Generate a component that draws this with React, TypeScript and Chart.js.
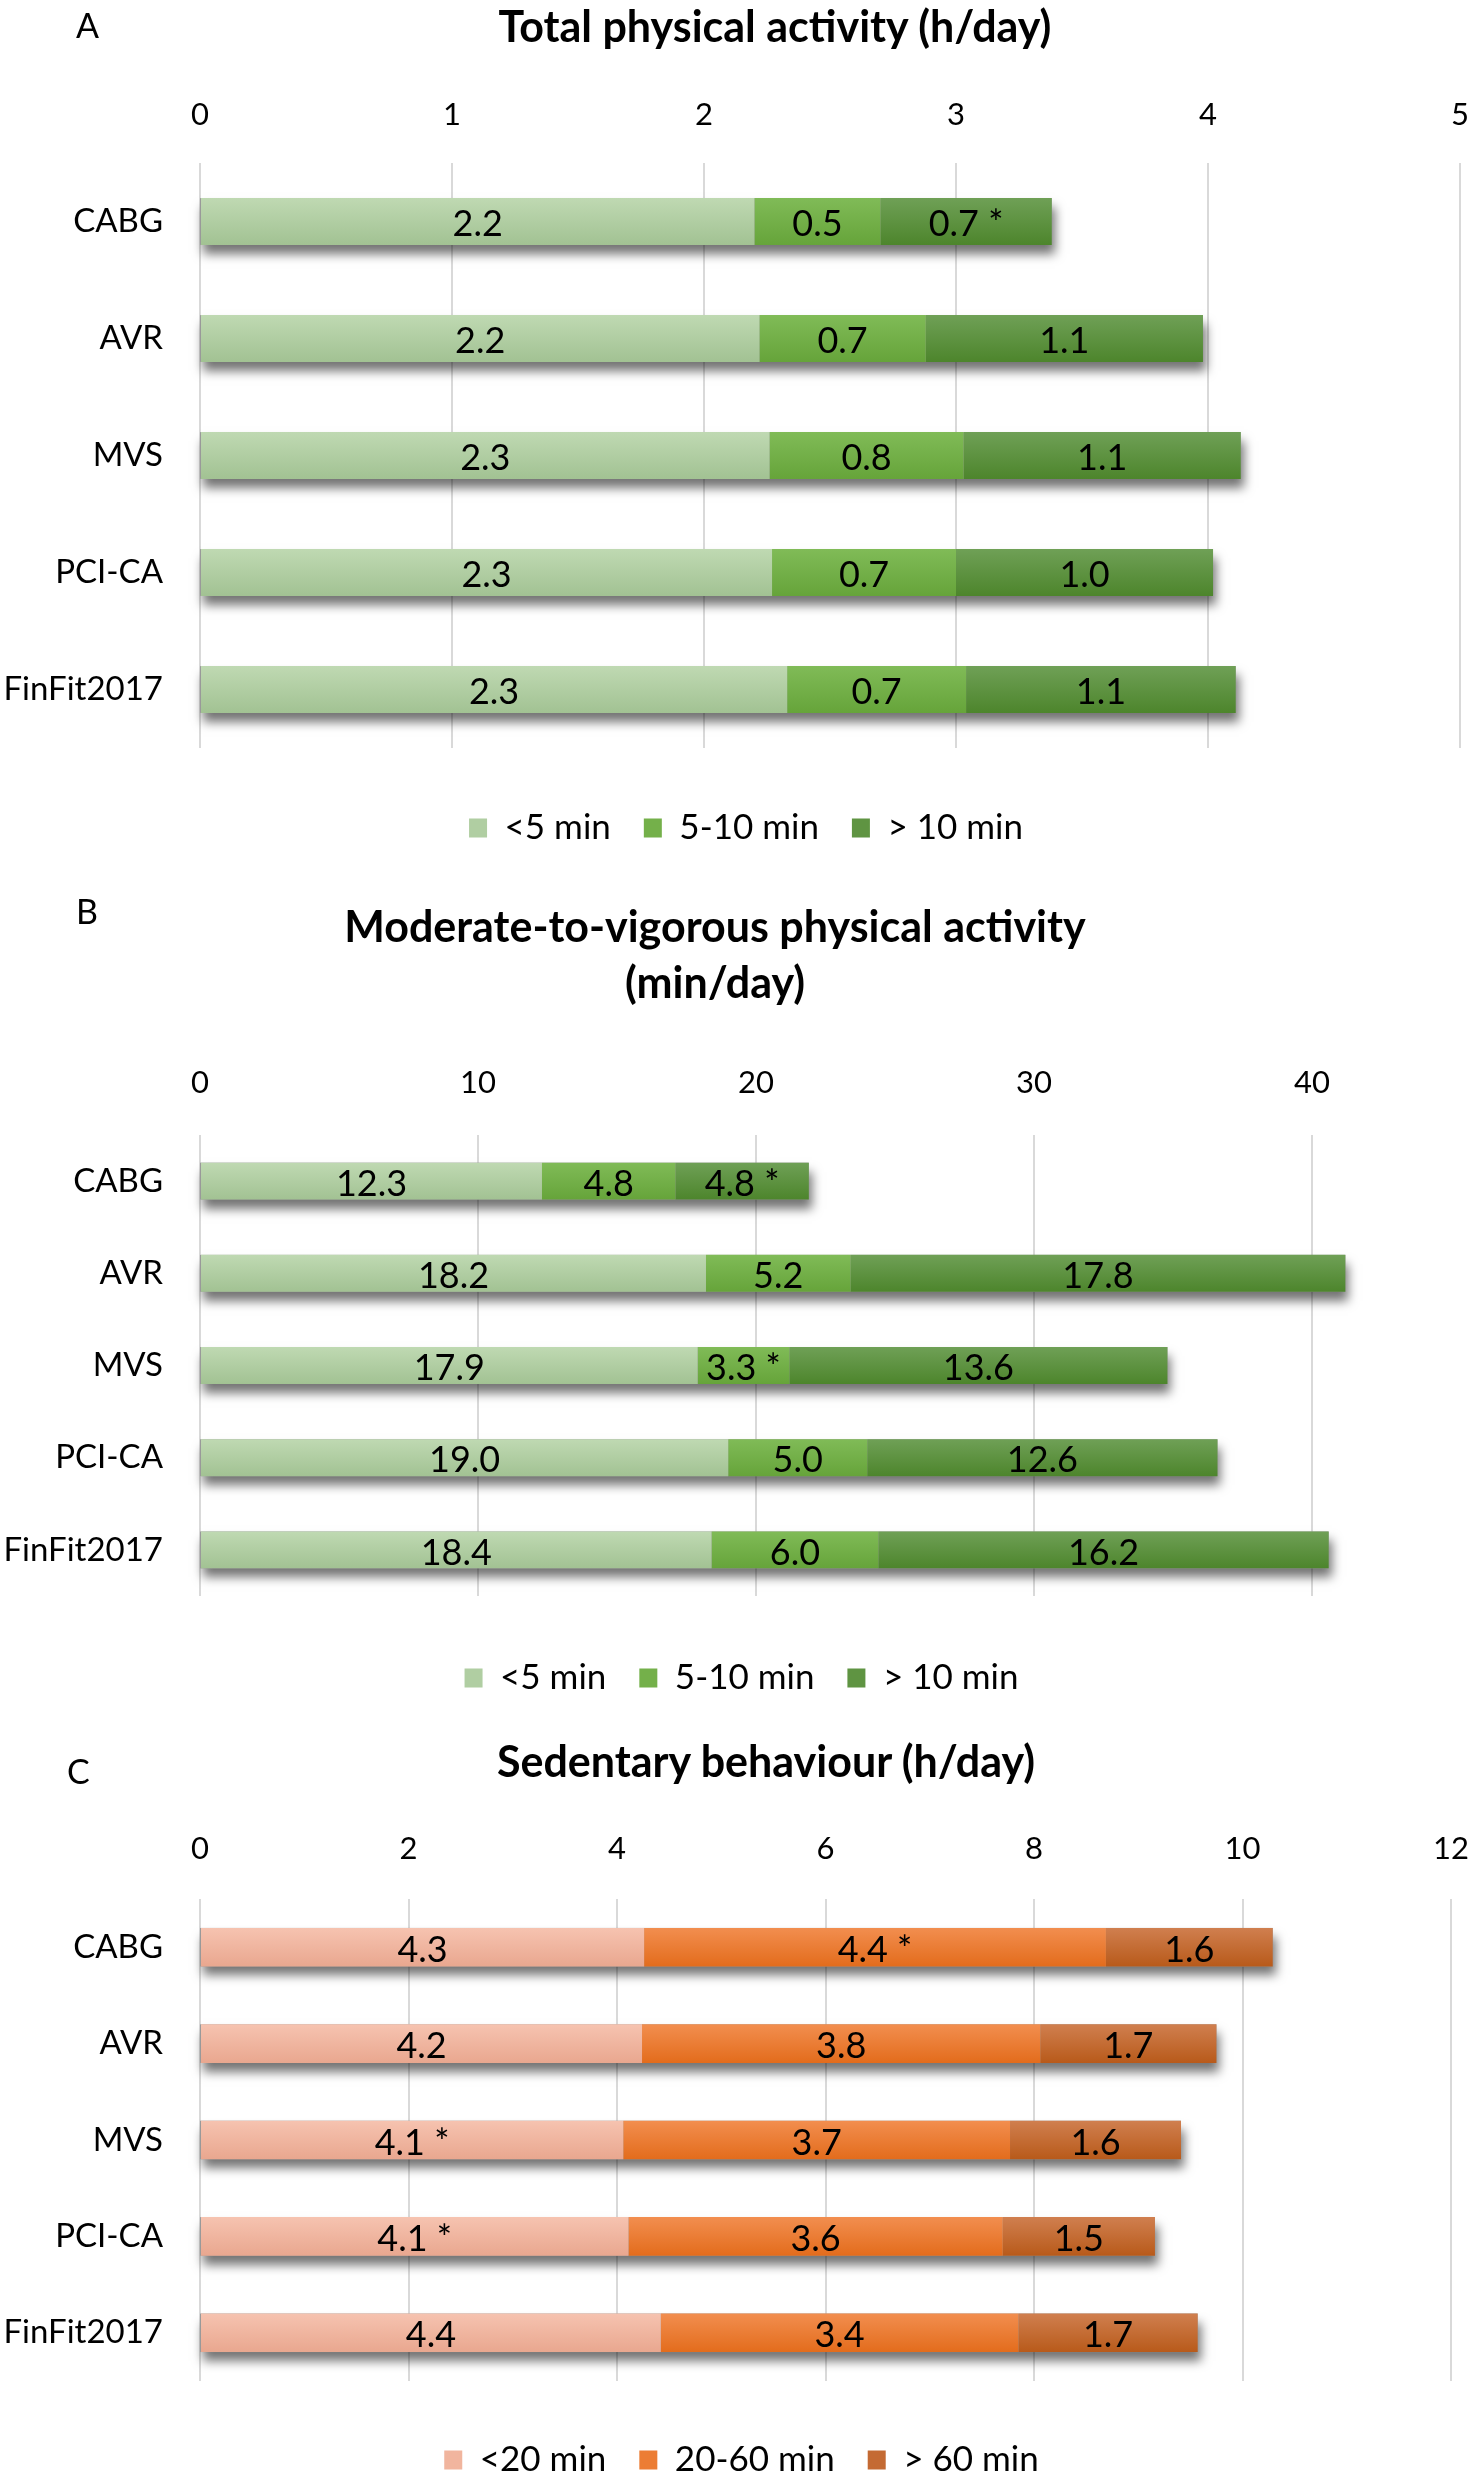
import React, { useEffect, useRef } from "react";
import { Chart, registerables } from "chart.js";

Chart.register(...registerables);

const FONT = "Lato, 'Open Sans', sans-serif";

// ---------- data ----------
const groups = ["CABG", "AVR", "MVS", "PCI-CA", "FinFit2017"];

// Panel A: Total physical activity (h/day)
const aSeriesNames = ["<5 min", "5-10 min", "> 10 min"];
const aShort = [2.2, 2.22, 2.26, 2.27, 2.33];
const aMid = [0.5, 0.66, 0.77, 0.73, 0.71];
const aLong = [0.68, 1.1, 1.1, 1.02, 1.07];
const aShortStar = [false, false, false, false, false];
const aMidStar = [false, false, false, false, false];
const aLongStar = [true, false, false, false, false];
const aTicks = [0, 1, 2, 3, 4, 5];

// Panel B: Moderate-to-vigorous physical activity (min/day)
const bSeriesNames = ["<5 min", "5-10 min", "> 10 min"];
const bShort = [12.3, 18.2, 17.9, 19.0, 18.4];
const bMid = [4.8, 5.2, 3.3, 5.0, 6.0];
const bLong = [4.8, 17.8, 13.6, 12.6, 16.2];
const bShortStar = [false, false, false, false, false];
const bMidStar = [false, false, true, false, false];
const bLongStar = [true, false, false, false, false];
const bTicks = [0, 10, 20, 30, 40];

// Panel C: Sedentary behaviour (h/day)
const cSeriesNames = ["<20 min", "20-60 min", "> 60 min"];
const cShort = [4.26, 4.24, 4.06, 4.11, 4.42];
const cMid = [4.43, 3.82, 3.71, 3.59, 3.43];
const cLong = [1.6, 1.69, 1.64, 1.46, 1.72];
const cShortStar = [false, false, true, true, false];
const cMidStar = [true, false, false, false, false];
const cLongStar = [false, false, false, false, false];
const cTicks = [0, 2, 4, 6, 8, 10, 12];

// ---------- styles ----------
const greens = [
  { mid: "#b0cea2", top: "#bfd9b2", bottom: "#a2c293" },
  { mid: "#74b04a", top: "#80bb57", bottom: "#66a43a" },
  { mid: "#5f9442", top: "#6fa056", bottom: "#4d852c" },
];
const oranges = [
  { mid: "#f1b59e", top: "#f6c3b0", bottom: "#e9a78f" },
  { mid: "#ec7d34", top: "#f28e4f", bottom: "#e36c1c" },
  { mid: "#c46a33", top: "#d07f4f", bottom: "#b85a1a" },
];

const TICK_FONT = 31;
const CAT_FONT = 33;
const DATA_FONT = 36;
const LEGEND_FONT = 35;

type Spec = {
  top: number;
  height: number;
  chartTop: number;
  chartBottom: number;
  right: number;
  legendCenter: number;
  tickCenter: number;
  max: number;
  ticks: number[];
  names: string[];
  values: number[][];
  stars: boolean[][];
  colors: { mid: string; top: string; bottom: string }[];
};

const specs: Spec[] = [
  {
    top: 0, height: 880, chartTop: 163, chartBottom: 748, right: 1460, legendCenter: 828, tickCenter: 115,
    max: 5, ticks: aTicks, names: aSeriesNames,
    values: [aShort, aMid, aLong], stars: [aShortStar, aMidStar, aLongStar], colors: greens,
  },
  {
    top: 880, height: 840, chartTop: 255, chartBottom: 716, right: 1451, legendCenter: 798, tickCenter: 203,
    max: 45, ticks: bTicks, names: bSeriesNames,
    values: [bShort, bMid, bLong], stars: [bShortStar, bMidStar, bLongStar], colors: greens,
  },
  {
    top: 1720, height: 770, chartTop: 179, chartBottom: 661, right: 1451, legendCenter: 740, tickCenter: 129,
    max: 12, ticks: cTicks, names: cSeriesNames,
    values: [cShort, cMid, cLong], stars: [cShortStar, cMidStar, cLongStar], colors: oranges,
  },
];

const barStylePlugin = {
  id: "barStyle",
  beforeDraw(chart: any) {
    // let long category labels extend to the canvas edge (label clip area)
    if (chart.scales.y) chart.scales.y.left = 0;
  },
  beforeDatasetsDraw(chart: any) {
    const ctx = chart.ctx;
    const xs = chart.scales.x;
    const n = chart.data.labels.length;
    const meta0 = chart.getDatasetMeta(0);
    for (let j = 0; j < n; j++) {
      let total = 0;
      chart.data.datasets.forEach((ds: any) => (total += ds.data[j]));
      const el = meta0.data[j];
      const h = el.height;
      const left = xs.getPixelForValue(0);
      const right = xs.getPixelForValue(total);
      ctx.save();
      ctx.shadowColor = "rgba(0,0,0,0.55)";
      ctx.shadowBlur = 10;
      ctx.shadowOffsetX = 3;
      ctx.shadowOffsetY = 9;
      ctx.fillStyle = "#999";
      ctx.fillRect(left, el.y - h / 2, right - left, h);
      ctx.restore();
    }
    chart.data.datasets.forEach((ds: any, i: number) => {
      chart.getDatasetMeta(i).data.forEach((el: any) => {
        const t = el.y - el.height / 2;
        const b = el.y + el.height / 2;
        const g = ctx.createLinearGradient(0, t, 0, b);
        g.addColorStop(0, ds.topColor);
        g.addColorStop(1, ds.bottomColor);
        el.options = Object.assign({}, el.options, { backgroundColor: g });
      });
    });
  },
  afterDatasetsDraw(chart: any) {
    const ctx = chart.ctx;
    ctx.save();
    ctx.font = `${DATA_FONT}px ${FONT}`;
    ctx.fillStyle = "#000";
    ctx.textAlign = "center";
    ctx.textBaseline = "middle";
    chart.data.datasets.forEach((ds: any, i: number) => {
      chart.getDatasetMeta(i).data.forEach((el: any, j: number) => {
        const txt = ds.data[j].toFixed(1) + (ds.stars[j] ? " *" : "");
        ctx.fillText(txt, (el.x + el.base) / 2, el.y + 3);
      });
    });
    ctx.restore();
  },
};

function buildConfig(spec: Spec): any {
  const legendPad = 33;
  const gap = spec.legendCenter - spec.chartBottom - legendPad - LEGEND_FONT / 2;
  const legendHeight = gap + LEGEND_FONT + legendPad + 10;
  const bottomPad = spec.height - spec.chartBottom - legendHeight;
  const tickLine = TICK_FONT * 1.2;
  const tickPad = spec.chartTop - spec.tickCenter - tickLine / 2;
  return {
    type: "bar",
    data: {
      labels: groups,
      datasets: spec.names.map((name, i) => ({
        label: name,
        data: spec.values[i],
        stars: spec.stars[i],
        backgroundColor: spec.colors[i].mid,
        topColor: spec.colors[i].top,
        bottomColor: spec.colors[i].bottom,
        borderWidth: 0,
        barPercentage: 0.4,
        categoryPercentage: 1,
      })),
    },
    options: {
      indexAxis: "y",
      responsive: false,
      animation: false,
      events: [],
      layout: { padding: { left: 32, right: 1472 - spec.right, top: 0, bottom: bottomPad } },
      scales: {
        x: {
          type: "linear",
          position: "top",
          stacked: true,
          min: 0,
          max: spec.max,
          ticks: { padding: tickPad, color: "#000", font: { family: FONT, size: TICK_FONT } },
          grid: { color: "#d9d9d9", lineWidth: 2, drawTicks: false },
          border: { display: false },
          afterBuildTicks: (s: any) => {
            s.ticks = spec.ticks.map((v) => ({ value: v }));
          },
          afterFit: (s: any) => {
            s.height = spec.chartTop;
            s.paddingLeft = 0;
            s.paddingRight = 0;
          },
        },
        y: {
          type: "category",
          stacked: true,
          ticks: { padding: 37, color: "#000", font: { family: FONT, size: CAT_FONT } },
          grid: { display: false, drawTicks: false },
          border: { display: false },
          afterFit: (s: any) => {
            s.width = 168;
            s.paddingTop = 0;
            s.paddingBottom = 0;
          },
        },
      },
      plugins: {
        title: { display: false },
        tooltip: { enabled: false },
        legend: {
          position: "bottom",
          labels: {
            color: "#000",
            font: { family: FONT, size: LEGEND_FONT },
            boxWidth: 18,
            boxHeight: 19,
            padding: legendPad,
          },
          title: {
            display: true,
            text: "",
            font: { size: 1, lineHeight: 1 },
            padding: { top: gap - 1, bottom: 0 },
          },
        },
      },
    },
    plugins: [barStylePlugin],
  };
}

function Panel({ spec }: { spec: Spec }) {
  const ref = useRef<HTMLCanvasElement>(null);
  useEffect(() => {
    const chart = new Chart(ref.current as HTMLCanvasElement, buildConfig(spec));
    return () => chart.destroy();
  }, []);
  return (
    <canvas
      ref={ref}
      width={1472}
      height={spec.height}
      style={{ position: "absolute", left: 0, top: spec.top, width: 1472, height: spec.height }}
    />
  );
}

function Label({
  text, x, capCenter, size, bold, center,
}: { text: string; x: number; capCenter: number; size: number; bold?: boolean; center?: boolean }) {
  const top = capCenter - 0.529 * size;
  const style: React.CSSProperties = {
    position: "absolute",
    top,
    fontFamily: FONT,
    fontSize: size,
    lineHeight: `${size}px`,
    fontWeight: bold ? 700 : 400,
    color: "#000",
    whiteSpace: "nowrap",
  };
  if (center) {
    style.left = x - 600;
    style.width = 1200;
    style.textAlign = "center";
  } else {
    style.left = x;
  }
  return <div style={style}>{text}</div>;
}

export default function App() {
  return (
    <div
      style={{
        position: "absolute",
        left: 0,
        top: 0,
        width: 1472,
        height: 2480,
        overflow: "hidden",
        background: "#fff",
      }}
    >
      {specs.map((s, i) => (
        <Panel key={i} spec={s} />
      ))}
      <Label text="A" x={76} capCenter={26} size={34} />
      <Label text="Total physical activity (h/day)" x={775} capCenter={27} size={43} bold center />
      <Label text="B" x={76} capCenter={912} size={34} />
      <Label text="Moderate-to-vigorous physical activity" x={715} capCenter={927} size={43} bold center />
      <Label text="(min/day)" x={715} capCenter={983} size={43} bold center />
      <Label text="C" x={67} capCenter={1772} size={34} />
      <Label text="Sedentary behaviour (h/day)" x={766} capCenter={1762} size={43} bold center />
    </div>
  );
}
